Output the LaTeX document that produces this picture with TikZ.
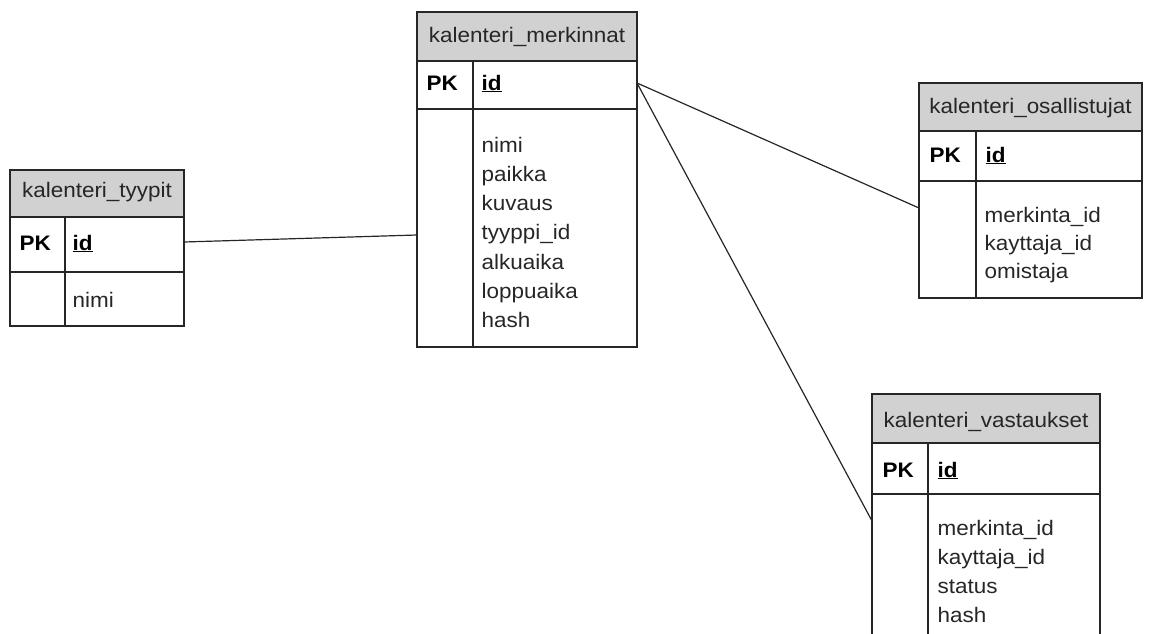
\documentclass[tikz,border=0pt]{standalone}
\usepackage{fontspec}
\setmainfont{Liberation Sans}[FakeStretch=1.07]
\begin{document}
\begin{tikzpicture}[x=1pt,y=-1pt,
  line width=1.3pt,
  frame/.style={draw=black!85, line width=1.3pt, inner sep=0pt, outer sep=0pt, anchor=north west},
  hdr/.style={frame, fill=black!18},
  conn/.style={draw=black!85, line width=1.2pt},
  ttl/.style={font=\fontsize{21}{29}\selectfont, text=black!85, anchor=base, inner sep=0pt},
  pk/.style={font=\fontsize{21}{29}\selectfont\bfseries, anchor=base west, inner sep=0pt},
  fld/.style={font=\fontsize{21}{29}\selectfont, text=black!85, anchor=base west, inner sep=0pt}
]
\useasboundingbox (0,0) rectangle (1151,634);
\clip (0,0) rectangle (1151,634);

% ---------- kalenteri_tyypit ----------
\node[hdr, minimum width=174pt, minimum height=47pt] (tH) at (10,170) {};
\node[frame, minimum width=174pt, minimum height=55pt] (tP) at (10,217) {};
\node[frame, minimum width=174pt, minimum height=54pt] (tB) at (10,272) {};
\draw[draw=black!85] (65,217) -- (65,326);
\node[ttl] (tHt) at (97,197) {kalenteri\_tyypit};
\node[pk] (tPK) at (19,250) {PK};
\node[pk] (tId) at (72,250) {\underline{id}};
\node[fld] (tF1) at (72,307) {nimi};

% ---------- kalenteri_merkinnat ----------
\node[hdr, minimum width=220pt, minimum height=49pt] (mH) at (417,12) {};
\node[frame, minimum width=220pt, minimum height=48pt] (mP) at (417,61) {};
\node[frame, minimum width=220pt, minimum height=238pt] (mB) at (417,109) {};
\draw[draw=black!85] (473,61) -- (473,347);
\node[ttl] (mHt) at (527,43) {kalenteri\_merkinnat};
\node[pk] (mPK) at (426,90) {PK};
\node[pk] (mId) at (481,90) {\underline{id}};
\foreach \t [count=\i from 0] in {nimi,paikka,kuvaus,tyyppi\_id,alkuaika,loppuaika,hash}
  \node[fld] (mF\i) at (481,152+29.3*\i) {\t};

% ---------- kalenteri_osallistujat ----------
\node[hdr, minimum width=223pt, minimum height=48pt] (oH) at (919,83) {};
\node[frame, minimum width=223pt, minimum height=50pt] (oP) at (919,131) {};
\node[frame, minimum width=223pt, minimum height=117pt] (oB) at (919,181) {};
\draw[draw=black!85] (976,131) -- (976,298);
\node[ttl] (oHt) at (1030.5,113) {kalenteri\_osallistujat};
\node[pk] (oPK) at (929,162) {PK};
\node[pk] (oId) at (985,162) {\underline{id}};
\foreach \t [count=\i from 0] in {merkinta\_id,kayttaja\_id,omistaja}
  \node[fld] (oF\i) at (984,222+28*\i) {\t};

% ---------- kalenteri_vastaukset ----------
\node[hdr, minimum width=228pt, minimum height=49pt] (vH) at (872,394) {};
\node[frame, minimum width=228pt, minimum height=51pt] (vP) at (872,443) {};
\node[frame, minimum width=228pt, minimum height=160pt] (vB) at (872,494) {};
\draw[draw=black!85] (928,443) -- (928,650);
\node[ttl] (vHt) at (986,427) {kalenteri\_vastaukset};
\node[pk] (vPK) at (882,477) {PK};
\node[pk] (vId) at (937,477) {\underline{id}};
\foreach \t [count=\i from 0] in {merkinta\_id,kayttaja\_id,status,hash}
  \node[fld] (vF\i) at (937,535+29*\i) {\t};

% ---------- connectors ----------
\coordinate (cT) at (184,242);
\coordinate (cM1) at (417,235);
\coordinate (cM2) at (637,83);
\coordinate (cO) at (919,208);
\coordinate (cV) at (872,521);
\draw[conn] (cT) -- (cM1);
\draw[conn] (cM2) -- (cO);
\draw[conn] (cM2) -- (cV);
\end{tikzpicture}
\end{document}
